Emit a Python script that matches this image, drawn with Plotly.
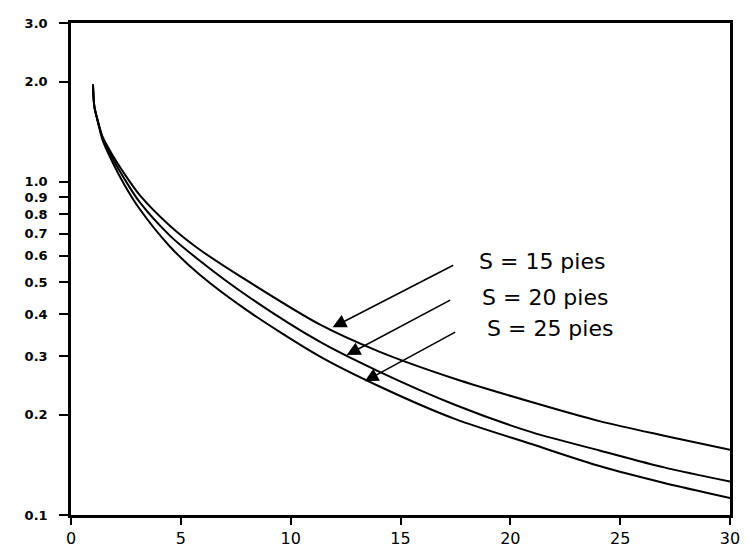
import math
import plotly.graph_objects as go

# ---- data ----
x_s15 = [1.0, 1.06, 1.2, 1.43, 1.88, 2.43, 3.11, 4.5, 5.85, 8.0, 11.3, 14.0, 17.5, 21.0, 24.1, 27.0, 30.0]
y_s15 = [1.96, 1.69, 1.54, 1.37, 1.207, 1.058, 0.916, 0.739, 0.627, 0.506, 0.374, 0.310, 0.256, 0.218, 0.191, 0.173, 0.157]

x_s20 = [1.0, 1.06, 1.2, 1.43, 1.88, 2.43, 3.11, 4.5, 5.85, 8.0, 11.3, 14.0, 17.5, 21.0, 24.1, 27.0, 30.0]
y_s20 = [1.96, 1.69, 1.54, 1.36, 1.182, 1.022, 0.872, 0.690, 0.581, 0.456, 0.332, 0.270, 0.214, 0.177, 0.156, 0.139, 0.126]

x_s25 = [1.0, 1.06, 1.2, 1.43, 1.88, 2.43, 3.11, 4.5, 5.85, 8.0, 11.3, 14.0, 17.5, 21.0, 24.1, 27.0, 30.0]
y_s25 = [1.96, 1.69, 1.54, 1.34, 1.150, 0.981, 0.832, 0.640, 0.527, 0.412, 0.300, 0.244, 0.194, 0.163, 0.140, 0.1248, 0.1125]

series_labels = ["S = 15 pies", "S = 20 pies", "S = 25 pies"]

y_tickvals = [0.1, 0.2, 0.3, 0.4, 0.5, 0.6, 0.7, 0.8, 0.9, 1.0, 2.0, 3.0]
y_ticktext = ["0.1", "0.2", "0.3", "0.4", "0.5", "0.6", "0.7", "0.8", "0.9", "1.0", "2.0", "3.0"]
x_tickvals = [0, 5, 10, 15, 20, 25, 30]
x_ticktext = ["0", "5", "10", "15", "20", "25", "30"]

fig = go.Figure()
for xs, ys, name in [(x_s15, y_s15, series_labels[0]),
                     (x_s20, y_s20, series_labels[1]),
                     (x_s25, y_s25, series_labels[2])]:
    fig.add_trace(go.Scatter(x=xs, y=ys, mode="lines", name=name,
                             line=dict(color="black", width=2, shape="spline", smoothing=0.8),
                             showlegend=False, hoverinfo="skip"))

# arrows (tip -> tail) in data units
arrows = [((11.91, 0.366), (17.47, 0.565)),
          ((12.55, 0.302), (17.33, 0.444)),
          ((13.37, 0.252), (17.56, 0.356))]
for (tx, ty), (ax, ay) in arrows:
    fig.add_annotation(x=tx, y=math.log10(ty), ax=ax, ay=math.log10(ay),
                       xref="x", yref="y", axref="x", ayref="y",
                       text="", showarrow=True, arrowhead=2, arrowsize=1.7,
                       arrowwidth=1.6, arrowcolor="black", standoff=0)

label_pos = [(18.47, 0.577), (18.61, 0.450), (18.84, 0.364)]
for (lx, ly), txt in zip(label_pos, series_labels):
    fig.add_annotation(x=lx, y=math.log10(ly), xref="x", yref="y",
                       text=txt, showarrow=False,
                       xanchor="left", yanchor="middle",
                       font=dict(family="DejaVu Sans", size=22, color="black"))

fig.update_layout(
    width=747, height=550,
    margin=dict(l=71, r=17, t=23, b=35),
    paper_bgcolor="white", plot_bgcolor="white",
    showlegend=False,
)
fig.update_xaxes(range=[0, 30], tickvals=x_tickvals, ticktext=x_ticktext,
                 automargin=False,
                 showgrid=False, zeroline=False, showline=True, linecolor="black",
                 linewidth=2.5, mirror=True, ticks="outside", ticklen=7, tickwidth=2,
                 tickcolor="black", ticklabelstandoff=0,
                 tickfont=dict(family="DejaVu Sans", size=16, color="black"))
fig.update_yaxes(type="log", range=[-1, math.log10(3.0)], tickvals=y_tickvals,
                 ticktext=y_ticktext, automargin=False,
                 showgrid=False, zeroline=False, showline=True,
                 linecolor="black", linewidth=2.5, mirror=True, ticks="outside",
                 ticklen=9, tickwidth=2, tickcolor="black", ticklabelstandoff=9,
                 tickfont=dict(family="DejaVu Sans", size=13, color="black", weight="bold"))

fig.write_html("out.html", config={"displayModeBar": False},
               post_script="document.body.style.margin='0';document.body.style.padding='0';")
